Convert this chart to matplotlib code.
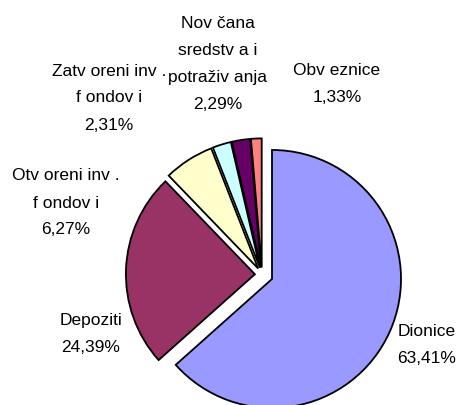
import matplotlib.pyplot as plt

kategorije = ["Dionice", "Depoziti", "Otv oreni inv .\nf ondov i",
              "Zatv oreni inv .\nf ondov i", "Nov čana\nsredstv a i\npotraživ anja",
              "Obv eznice"]
udjeli = [63.41, 24.39, 6.27, 2.31, 2.29, 1.33]
postoci = ["63,41%", "24,39%", "6,27%", "2,31%", "2,29%", "1,33%"]

boje = ["#9999FF", "#993366", "#FFFFCC", "#CCFFFF", "#660066", "#FF8080"]
izvlacenje = [0.085, 0.055, 0.055, 0.055, 0.055, 0.055]

# sredina teksta (u pikselima slike, y od vrha)
pozicije = [(427, 345), (91, 334), (66, 203), (109, 98), (218, 64), (337, 84)]

W, H = 459, 405
cx, cy, r = 262, 274.5, 129  # sredina i radijus pite u pikselima

fig = plt.figure(figsize=(W / 100, H / 100), dpi=100)
ax = fig.add_axes([0, 0, 1, 1])

ax.pie(udjeli, colors=boje, explode=izvlacenje, startangle=90,
       counterclock=False, radius=1,
       wedgeprops=dict(edgecolor="black", linewidth=1.3))

ax.set_xlim(-cx / r, (W - cx) / r)
ax.set_ylim(-(H - cy) / r, cy / r)
ax.set_aspect("equal")
ax.axis("off")

for naziv, pct, (px, py) in zip(kategorije, postoci, pozicije):
    fig.text(px / W, 1 - py / H, naziv + "\n" + pct, ha="center", va="center",
             fontsize=12.5, family="Liberation Sans", linespacing=2.0)

fig.savefig("out.png", dpi=100)
